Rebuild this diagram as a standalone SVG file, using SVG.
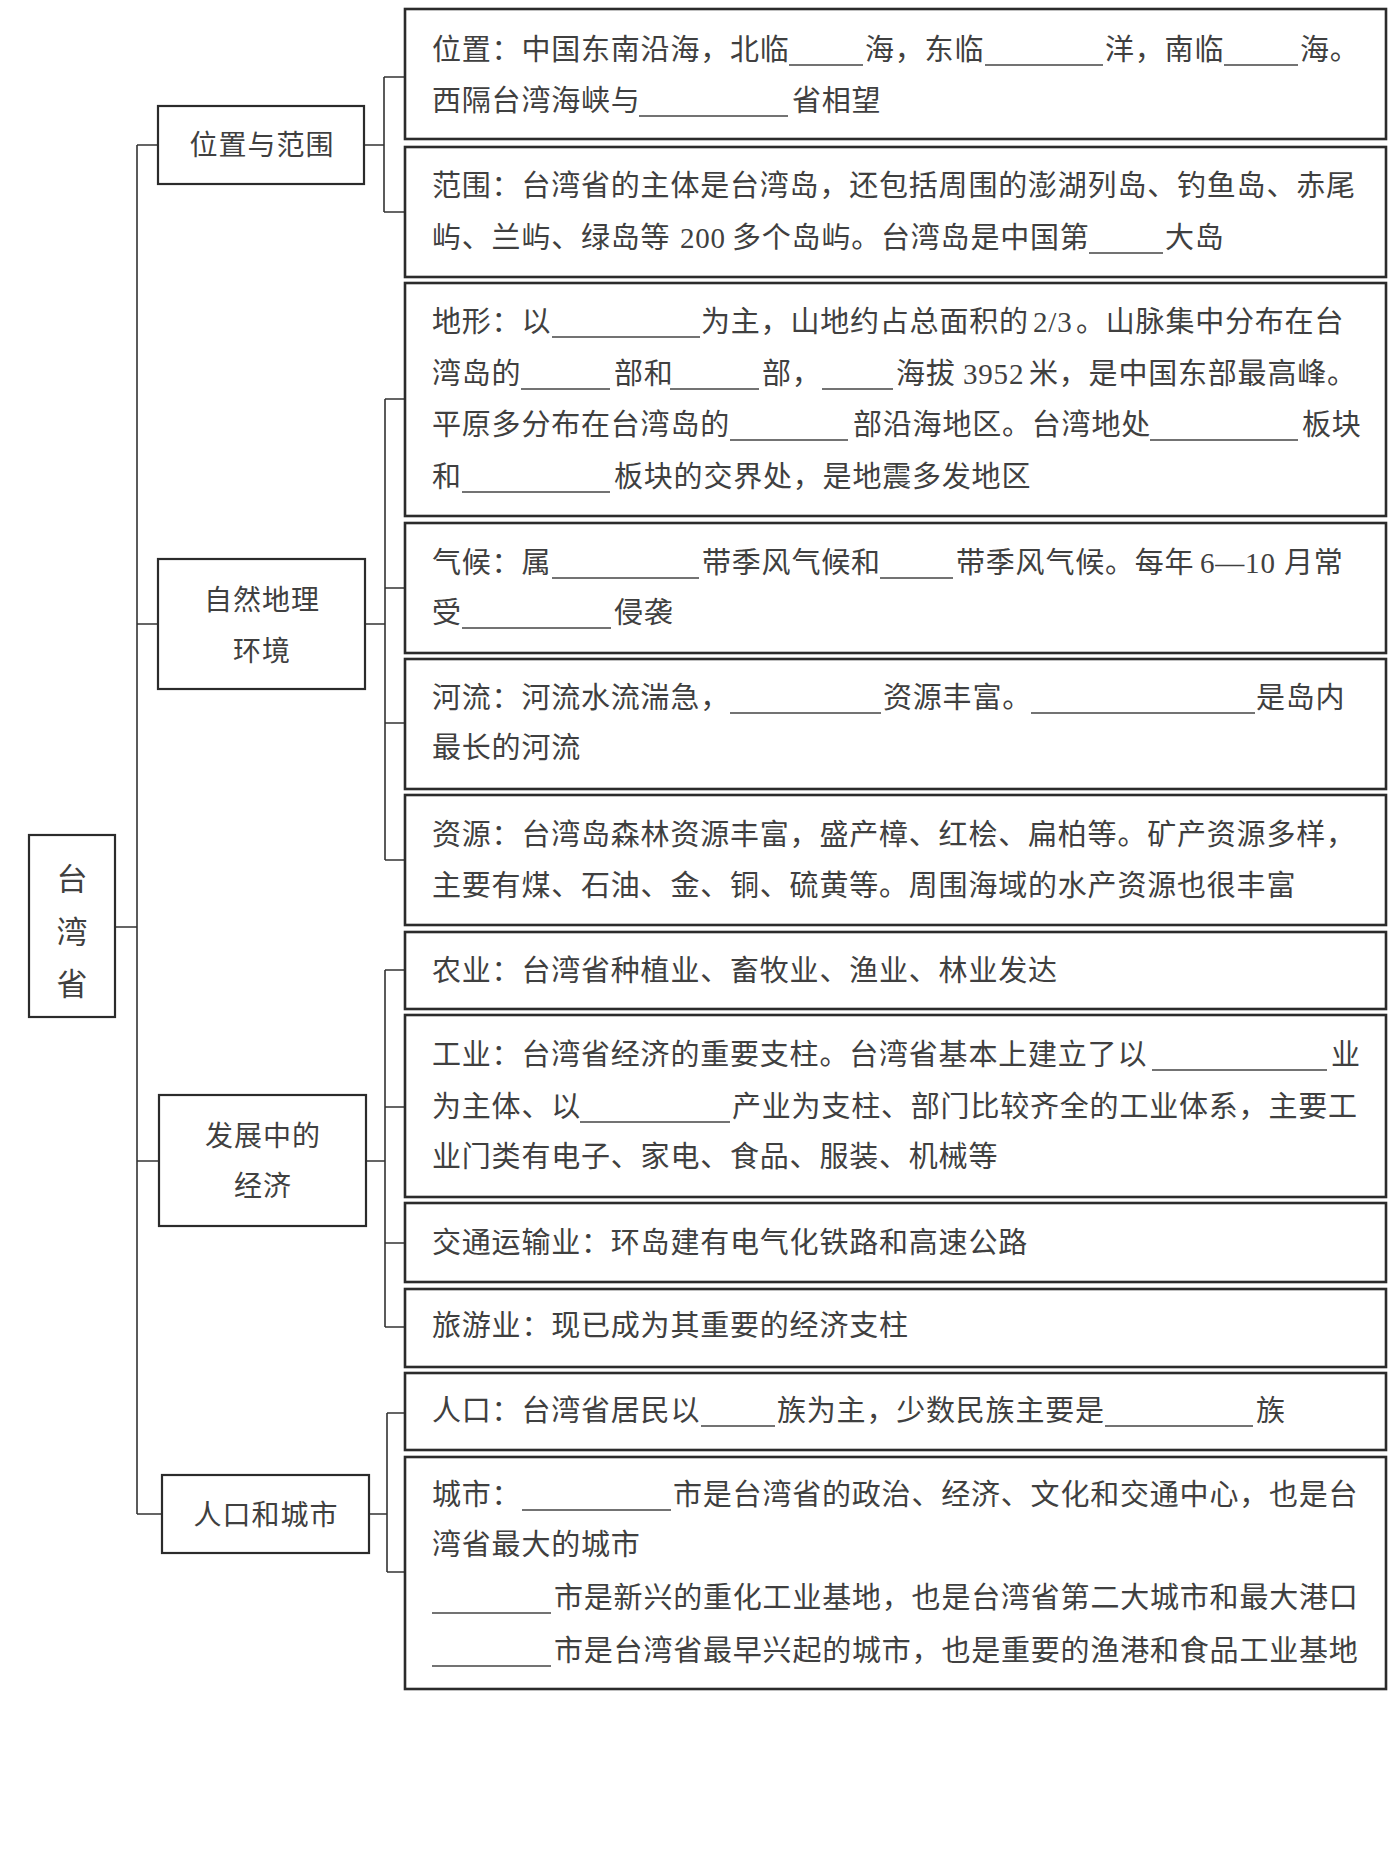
<svg xmlns="http://www.w3.org/2000/svg" width="1390" height="1849" viewBox="0 0 1390 1849">
<style>
.bg{fill:#ffffff}
.box{fill:#ffffff;stroke:#2b2b2b;stroke-width:2.6}
.lbox{fill:#ffffff;stroke:#2b2b2b;stroke-width:2.2}
.con{fill:none;stroke:#333333;stroke-width:1.6}
.t{font-family:"Liberation Serif","Noto Sans CJK SC",serif;font-size:29px;letter-spacing:0.8px;fill:#404040}
.lt{font-family:"Noto Sans CJK SC",sans-serif;font-size:28px;letter-spacing:1px;fill:#404040;text-anchor:middle}
.rt{font-family:"Noto Sans CJK SC",sans-serif;font-size:31px;fill:#404040;text-anchor:middle}
.bl{stroke:#444444;stroke-width:1.3}
</style>
<rect class="bg" x="0" y="0" width="1390" height="1849"/>

<g id="connectors">
<path class="con" d="M115,927 H137 M137,145 V1514 M137,145 H158 M137,624 H158 M137,1161 H159 M137,1514 H162"/>
<path class="con" d="M364,145 H384 M384,77 V212 M384,77 H405 M384,212 H405"/>
<path class="con" d="M365,624 H385 M385,399 V860 M385,399 H405 M385,588 H405 M385,723 H405 M385,860 H405"/>
<path class="con" d="M366,1161 H385 M385,970 V1327 M385,970 H405 M385,1107 H405 M385,1243 H405 M385,1327 H405"/>
<path class="con" d="M369,1514 H387 M387,1413 V1572 M387,1413 H405 M387,1572 H405"/>
</g>

<g id="root">
<rect class="lbox" x="29" y="835" width="86" height="182"/>
<text class="rt" x="72" y="890">台</text>
<text class="rt" x="72" y="943">湾</text>
<text class="rt" x="72" y="995">省</text>
</g>

<g id="n-weizhi">
<rect class="lbox" x="158" y="106" width="206" height="78"/>
<text class="lt" x="262" y="155">位置与范围</text>
</g>
<g id="n-ziran">
<rect class="lbox" x="158" y="559" width="207" height="130"/>
<text class="lt" x="262" y="610">自然地理</text>
<text class="lt" x="262" y="661">环境</text>
</g>
<g id="n-jingji">
<rect class="lbox" x="159" y="1095" width="207" height="131"/>
<text class="lt" x="263" y="1146">发展中的</text>
<text class="lt" x="263" y="1196">经济</text>
</g>
<g id="n-renkou">
<rect class="lbox" x="162" y="1475" width="207" height="78"/>
<text class="lt" x="266" y="1525">人口和城市</text>
</g>

<g id="b-weizhi">
<rect class="box" x="405" y="9" width="981" height="130"/>
<text class="t" y="60"><tspan x="432">位置：中国东南沿海，北临</tspan><tspan x="865">海，东临</tspan><tspan x="1105">洋，南临</tspan><tspan x="1300">海。</tspan></text>
<line class="bl" x1="789" y1="65" x2="863" y2="65"/>
<line class="bl" x1="985" y1="65" x2="1103" y2="65"/>
<line class="bl" x1="1224" y1="65" x2="1298" y2="65"/>
<text class="t" y="111"><tspan x="432">西隔台湾海峡与</tspan><tspan x="792">省相望</tspan></text>
<line class="bl" x1="639" y1="116" x2="788" y2="116"/>
</g>

<g id="b-fanwei">
<rect class="box" x="405" y="147" width="981" height="130"/>
<text class="t" y="196" x="432">范围：台湾省的主体是台湾岛，还包括周围的澎湖列岛、钓鱼岛、赤尾</text>
<text class="t" y="248"><tspan x="432">屿、兰屿、绿岛等</tspan><tspan x="680">200</tspan><tspan x="732">多个岛屿。台湾岛是中国第</tspan><tspan x="1165">大岛</tspan></text>
<line class="bl" x1="1089" y1="253" x2="1163" y2="253"/>
</g>

<g id="b-dixing">
<rect class="box" x="405" y="283" width="981" height="233"/>
<text class="t" y="332"><tspan x="432">地形：以</tspan><tspan x="701">为主，山地约占总面积的</tspan><tspan x="1033">2/3</tspan><tspan x="1076">。山脉集中分布在台</tspan></text>
<line class="bl" x1="552" y1="337" x2="700" y2="337"/>
<text class="t" y="384"><tspan x="432">湾岛的</tspan><tspan x="614">部和</tspan><tspan x="762">部，</tspan><tspan x="896">海拔</tspan><tspan x="963">3952</tspan><tspan x="1029">米，是中国东部最高峰。</tspan></text>
<line class="bl" x1="521" y1="389" x2="610" y2="389"/>
<line class="bl" x1="670" y1="389" x2="759" y2="389"/>
<line class="bl" x1="822" y1="389" x2="893" y2="389"/>
<text class="t" y="435"><tspan x="432">平原多分布在台湾岛的</tspan><tspan x="853">部沿海地区。台湾地处</tspan><tspan x="1302">板块</tspan></text>
<line class="bl" x1="730" y1="440" x2="848" y2="440"/>
<line class="bl" x1="1150" y1="440" x2="1298" y2="440"/>
<text class="t" y="487"><tspan x="432">和</tspan><tspan x="614">板块的交界处，是地震多发地区</tspan></text>
<line class="bl" x1="462" y1="492" x2="610" y2="492"/>
</g>

<g id="b-qihou">
<rect class="box" x="405" y="523" width="981" height="130"/>
<text class="t" y="573"><tspan x="432">气候：属</tspan><tspan x="702">带季风气候和</tspan><tspan x="956">带季风气候。每年</tspan><tspan x="1200">6—10</tspan><tspan x="1284">月常</tspan></text>
<line class="bl" x1="552" y1="578" x2="699" y2="578"/>
<line class="bl" x1="880" y1="578" x2="953" y2="578"/>
<text class="t" y="623"><tspan x="432">受</tspan><tspan x="614">侵袭</tspan></text>
<line class="bl" x1="462" y1="628" x2="611" y2="628"/>
</g>

<g id="b-heliu">
<rect class="box" x="405" y="659" width="981" height="130"/>
<text class="t" y="708"><tspan x="432">河流：河流水流湍急，</tspan><tspan x="883">资源丰富。</tspan><tspan x="1256">是岛内</tspan></text>
<line class="bl" x1="730" y1="713" x2="881" y2="713"/>
<line class="bl" x1="1031" y1="713" x2="1255" y2="713"/>
<text class="t" y="758" x="432">最长的河流</text>
</g>

<g id="b-ziyuan">
<rect class="box" x="405" y="795" width="981" height="130"/>
<text class="t" y="845" x="432">资源：台湾岛森林资源丰富，盛产樟、红桧、扁柏等。矿产资源多样，</text>
<text class="t" y="896" x="432">主要有煤、石油、金、铜、硫黄等。周围海域的水产资源也很丰富</text>
</g>

<g id="b-nongye">
<rect class="box" x="405" y="932" width="981" height="77"/>
<text class="t" y="981" x="432">农业：台湾省种植业、畜牧业、渔业、林业发达</text>
</g>

<g id="b-gongye">
<rect class="box" x="405" y="1015" width="981" height="182"/>
<text class="t" y="1065"><tspan x="432">工业：台湾省经济的重要支柱。台湾省基本上建立了以</tspan><tspan x="1331">业</tspan></text>
<line class="bl" x1="1152" y1="1070" x2="1327" y2="1070"/>
<text class="t" y="1117"><tspan x="432">为主体、以</tspan><tspan x="732">产业为支柱、部门比较齐全的工业体系，主要工</tspan></text>
<line class="bl" x1="580" y1="1122" x2="730" y2="1122"/>
<text class="t" y="1167" x="432">业门类有电子、家电、食品、服装、机械等</text>
</g>

<g id="b-jiaotong">
<rect class="box" x="405" y="1203" width="981" height="79"/>
<text class="t" y="1253" x="432">交通运输业：环岛建有电气化铁路和高速公路</text>
</g>

<g id="b-lvyou">
<rect class="box" x="405" y="1289" width="981" height="78"/>
<text class="t" y="1336" x="432">旅游业：现已成为其重要的经济支柱</text>
</g>

<g id="b-renkou">
<rect class="box" x="405" y="1373" width="981" height="77"/>
<text class="t" y="1421"><tspan x="432">人口：台湾省居民以</tspan><tspan x="777">族为主，少数民族主要是</tspan><tspan x="1256">族</tspan></text>
<line class="bl" x1="701" y1="1426" x2="775" y2="1426"/>
<line class="bl" x1="1105" y1="1426" x2="1253" y2="1426"/>
</g>

<g id="b-chengshi">
<rect class="box" x="405" y="1457" width="981" height="232"/>
<text class="t" y="1505"><tspan x="432">城市：</tspan><tspan x="673">市是台湾省的政治、经济、文化和交通中心，也是台</tspan></text>
<line class="bl" x1="522" y1="1510" x2="671" y2="1510"/>
<text class="t" y="1555" x="432">湾省最大的城市</text>
<text class="t" y="1608" x="554">市是新兴的重化工业基地，也是台湾省第二大城市和最大港口</text>
<line class="bl" x1="432" y1="1613" x2="551" y2="1613"/>
<text class="t" y="1661" x="554">市是台湾省最早兴起的城市，也是重要的渔港和食品工业基地</text>
<line class="bl" x1="432" y1="1666" x2="551" y2="1666"/>
</g>
</svg>
